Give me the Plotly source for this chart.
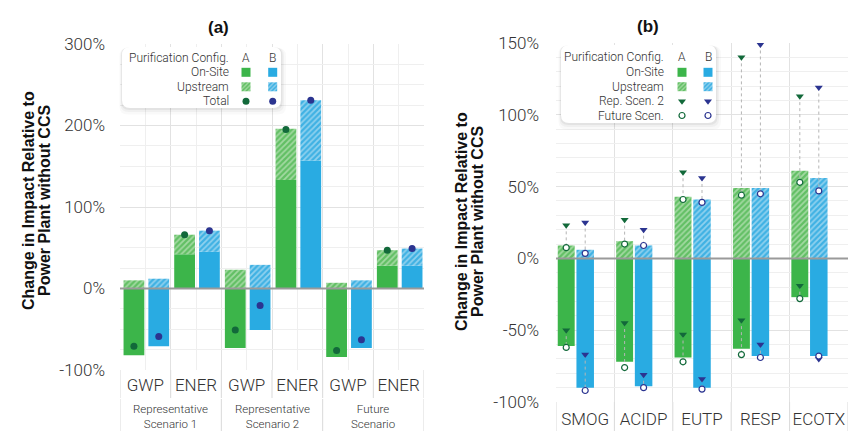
import plotly.graph_objects as go

W, H = 848, 431

# ---------------- data: panel (a) ----------------
cats_a = ["GWP", "ENER", "GWP", "ENER", "GWP", "ENER"]
scenarios_a = ["Representative<br>Scenario 1", "Representative<br>Scenario 2", "Future<br>Scenario"]
onsite_A = [-82, 42, -73, 133, -84, 28]
upstream_A = [10, 24, 23, 63, 7, 19]
total_A = [-71, 66, -51, 195, -76, 47]
onsite_B = [-71, 45, -51, 157, -73, 28]
upstream_B = [12, 26, 29, 74, 10, 21]
total_B = [-59, 71, -21, 231, -63, 49]
yticks_a = [-100, 0, 100, 200, 300]
yticktext_a = ["-100%", "0%", "100%", "200%", "300%"]

# ---------------- data: panel (b) ----------------
cats_b = ["SMOG", "ACIDP", "EUTP", "RESP", "ECOTX"]
onsite_A_b = [-61, -72, -69, -63, -27]
upstream_A_b = [9, 12, 43, 49, 61]
onsite_B_b = [-90, -89, -90, -68, -68]
upstream_B_b = [6, 9, 41, 49, 56]
rep2_up_A = [23, 27, 60, 140, 113]
rep2_on_A = [-50, -45, -53, -43, -19]
fut_up_A = [7.5, 10, 41, 44, 53]
fut_on_A = [-62, -76, -72, -67, -28]
rep2_up_B = [25, 20, 56, 149, 119]
rep2_on_B = [-67, -81, -84, -60, -70]
fut_up_B = [3.5, 9, 39, 45, 47]
fut_on_B = [-92, -90, -91, -69, -68]
yticks_b = [-100, -50, 0, 50, 100, 150]
yticktext_b = ["-100%", "-50%", "0%", "50%", "100%", "150%"]

# ---------------- styles ----------------
GREEN = "#3cb54a"
BLUE = "#29abe2"
DGREEN = "#12693a"
DBLUE = "#2b3490"
PAT_A = dict(shape="/", bgcolor="#62bf64", fgcolor="#e2f3de", size=4, solidity=0.45)
PAT_B = dict(shape="/", bgcolor="#3fb1e3", fgcolor="#dff1fa", size=4, solidity=0.45)
LIGHT = "Roboto"
BOLD = "Liberation Sans"
TXT = "#333333"

fig = go.Figure()

# ---------------- panel (a) ----------------
pos_a = list(range(len(cats_a)))
grp_a = {"A": (-0.43, 0.41), "B": (0.06, 0.41)}
for cfg, onsite, up, tot, col, dcol, pat in [
    ("A", onsite_A, upstream_A, total_A, GREEN, DGREEN, PAT_A),
    ("B", onsite_B, upstream_B, total_B, BLUE, DBLUE, PAT_B),
]:
    off, wid = grp_a[cfg]
    fig.add_trace(go.Bar(x=pos_a, y=onsite, offset=off, width=wid,
                         marker=dict(color=col, line=dict(width=0)),
                         xaxis="x", yaxis="y", showlegend=False))
    fig.add_trace(go.Bar(x=pos_a, y=up, base=[max(o, 0) for o in onsite],
                         offset=off, width=wid,
                         marker=dict(color=pat["bgcolor"], pattern=pat, line=dict(width=0)),
                         xaxis="x", yaxis="y", showlegend=False))
    fig.add_trace(go.Scatter(x=[p + off + wid / 2 for p in pos_a], y=tot, mode="markers",
                             marker=dict(color=dcol, size=7),
                             xaxis="x", yaxis="y", showlegend=False))

# ---------------- panel (b) ----------------
pos_b = list(range(len(cats_b)))
grp_b = {"A": (-0.47, 0.29), "B": (-0.15, 0.30)}
for cfg, onsite, up, r_up, r_on, f_up, f_on, col, dcol, pat in [
    ("A", onsite_A_b, upstream_A_b, rep2_up_A, rep2_on_A, fut_up_A, fut_on_A, GREEN, DGREEN, PAT_A),
    ("B", onsite_B_b, upstream_B_b, rep2_up_B, rep2_on_B, fut_up_B, fut_on_B, BLUE, DBLUE, PAT_B),
]:
    off, wid = grp_b[cfg]
    fig.add_trace(go.Bar(x=pos_b, y=onsite, offset=off, width=wid,
                         marker=dict(color=col, line=dict(width=0)),
                         xaxis="x2", yaxis="y2", showlegend=False))
    fig.add_trace(go.Bar(x=pos_b, y=up, base=[max(o, 0) for o in onsite],
                         offset=off, width=wid,
                         marker=dict(color=pat["bgcolor"], pattern=pat, line=dict(width=0)),
                         xaxis="x2", yaxis="y2", showlegend=False))
    xc = [p + off + wid / 2 for p in pos_b]
    lx, ly = [], []
    for i in range(len(pos_b)):
        lx += [xc[i], xc[i], None, xc[i], xc[i], None]
        ly += [r_up[i], f_up[i], None, r_on[i], f_on[i], None]
    fig.add_trace(go.Scatter(x=lx, y=ly, mode="lines",
                             line=dict(color="#b5b5b5", width=1, dash="dot"),
                             xaxis="x2", yaxis="y2", showlegend=False))
    fig.add_trace(go.Scatter(x=xc + xc, y=r_up + r_on, mode="markers",
                             marker=dict(symbol="triangle-down", color=dcol, size=7),
                             xaxis="x2", yaxis="y2", showlegend=False))
    fig.add_trace(go.Scatter(x=xc + xc, y=f_up + f_on, mode="markers",
                             marker=dict(symbol="circle", color="white", size=6,
                                         line=dict(color=dcol, width=1.2)),
                             xaxis="x2", yaxis="y2", showlegend=False))

# ---------------- custom legend (pixel helper axes) ----------------
def rrect(x0, y0, x1, y1, r):
    return (f"M{x0+r},{y0} L{x1-r},{y0} Q{x1},{y0} {x1},{y0+r} L{x1},{y1-r} "
            f"Q{x1},{y1} {x1-r},{y1} L{x0+r},{y1} Q{x0},{y1} {x0},{y1-r} "
            f"L{x0},{y0+r} Q{x0},{y0} {x0+r},{y0} Z")

shapes = []
annotations = []

def legend_box(x0, y0, x1, y1):
    for k, op in [(5, 0.025), (3, 0.035), (1.5, 0.05)]:
        shapes.append(dict(type="path", path=rrect(x0 - k * 0.5, y0 + k * 0.2, x1 + k, y1 + k * 1.3, 8),
                           xref="x3", yref="y3", fillcolor=f"rgba(0,0,0,{op})",
                           line=dict(width=0), layer="below"))
    shapes.append(dict(type="path", path=rrect(x0, y0, x1, y1, 8), xref="x3", yref="y3",
                       fillcolor="white", line=dict(width=0), layer="below"))

def legend_text(txt, x, y, anchor="right"):
    annotations.append(dict(text=txt, x=x, y=y, xref="x3", yref="y3", showarrow=False,
                            xanchor=anchor, yanchor="middle",
                            font=dict(family=LIGHT, size=12, color=TXT, weight=300)))

leg_rows_a = ["Purification Config.", "On-Site", "Upstream", "Total"]
leg_rows_b = ["Purification Config.", "On-Site", "Upstream", "Rep. Scen. 2", "Future Scen."]

for (bx0, by0, bx1, by1, tx, ax, bxc, rows, ry) in [
    (122, 47, 281, 108, 231, 246, 272.7, leg_rows_a, [57.5, 72.3, 86.8, 101.3]),
    (561, 45, 716, 123, 666, 682, 708, leg_rows_b, [57.3, 72.3, 86.7, 101.3, 115.5]),
]:
    legend_box(bx0, by0, bx1, by1)
    for r, yy in zip(rows, ry):
        legend_text(r, tx, yy)
    legend_text("A", ax, ry[0], "center")
    legend_text("B", bxc, ry[0], "center")
    fig.add_trace(go.Scatter(x=[ax, bxc], y=[ry[1], ry[1]], mode="markers",
                             marker=dict(symbol="square", size=9, color=[GREEN, BLUE]),
                             xaxis="x3", yaxis="y3", showlegend=False))
    for xx, pat in [(ax, PAT_A), (bxc, PAT_B)]:
        fig.add_trace(go.Bar(x=[xx], y=[9], base=[ry[2] - 4.5], width=[9],
                             marker=dict(color=pat["bgcolor"], pattern=dict(pat, size=3), line=dict(width=0)),
                             xaxis="x3", yaxis="y3", showlegend=False))
    if len(rows) == 4:
        fig.add_trace(go.Scatter(x=[ax, bxc], y=[ry[3], ry[3]], mode="markers",
                                 marker=dict(symbol="circle", size=7, color=[DGREEN, DBLUE]),
                                 xaxis="x3", yaxis="y3", showlegend=False))
    else:
        fig.add_trace(go.Scatter(x=[ax, bxc], y=[ry[3], ry[3]], mode="markers",
                                 marker=dict(symbol="triangle-down", size=7, color=[DGREEN, DBLUE]),
                                 xaxis="x3", yaxis="y3", showlegend=False))
        fig.add_trace(go.Scatter(x=[ax, bxc], y=[ry[4], ry[4]], mode="markers",
                                 marker=dict(symbol="circle", size=6, color="white",
                                             line=dict(color=[DGREEN, DBLUE], width=1.2)),
                                 xaxis="x3", yaxis="y3", showlegend=False))

# ---------------- titles ----------------
for txt, x, y in [("(a)", 218, 27), ("(b)", 648, 26)]:
    annotations.append(dict(text=f"<b>{txt}</b>", x=x, y=y, xref="x3", yref="y3", showarrow=False,
                            font=dict(family=BOLD, size=17, color="#111")))
for x1, x2, yc in [(28, 44, 201), (461, 477, 222)]:
    for txt, xx in [("Change in Impact Relative to", x1), ("Power Plant without CCS", x2)]:
        annotations.append(dict(text=f"<b>{txt}</b>", x=xx, y=yc, xref="x3", yref="y3",
                                showarrow=False, textangle=-90,
                                font=dict(family=BOLD, size=16, color="#111")))

# ---------------- category label cells ----------------
def py(p):
    return 1 - p / H

SEP = "#d9d9d9"
for b in [p - 0.5 for p in pos_a] + [pos_a[-1] + 0.5]:
    shapes.append(dict(type="line", xref="x", yref="paper", x0=b, x1=b, y0=py(370), y1=py(398),
                       line=dict(color=SEP, width=1), layer="above"))
n_per = len(cats_a) // len(scenarios_a)
for g in range(len(scenarios_a) + 1):
    b = g * n_per - 0.5
    shapes.append(dict(type="line", xref="x", yref="paper", x0=b, x1=b, y0=py(399), y1=py(431),
                       line=dict(color=SEP, width=1), layer="above"))
for g, s in enumerate(scenarios_a):
    annotations.append(dict(text=s, x=g * n_per + (n_per - 1) / 2, y=py(416), xref="x", yref="paper",
                            showarrow=False, yanchor="middle",
                            font=dict(family=LIGHT, size=11.5, color=TXT, weight=300)))
for b in [p - 0.5 for p in pos_b] + [pos_b[-1] + 0.5]:
    shapes.append(dict(type="line", xref="x2", yref="paper", x0=b, x1=b, y0=py(402), y1=py(431),
                       line=dict(color=SEP, width=1), layer="above"))

for xr, yr in [("x domain", "y"), ("x2 domain", "y2")]:
    shapes.append(dict(type="line", xref=xr, yref=yr, x0=0, x1=1, y0=0, y1=0,
                       line=dict(color="#9a9a9a", width=2), layer="above"))

tickfont = dict(family=LIGHT, size=17, color=TXT, weight=300)
GRID = "#e2e2e2"
MINOR = "#efefef"

fig.update_layout(
    width=W, height=H,
    margin=dict(l=0, r=0, t=0, b=0, autoexpand=False),
    paper_bgcolor="white", plot_bgcolor="rgba(0,0,0,0)",
    barmode="overlay", showlegend=False,
    xaxis=dict(domain=[120 / W, 424 / W], range=[-0.5, len(cats_a) - 0.5], anchor="y",
               tickmode="array", tickvals=pos_a, ticktext=cats_a, tickfont=tickfont,
               showgrid=True, gridcolor=MINOR, zeroline=False, ticks="", ticklabelstandoff=3,
               automargin=False,
               minor=dict(tickmode="array", tickvals=[p - 0.5 for p in pos_a] + [pos_a[-1] + 0.5],
                          showgrid=True, gridcolor=GRID, ticks="")),
    yaxis=dict(domain=[py(370), py(44)], range=[-100, 300], anchor="x",
               tickmode="array", tickvals=yticks_a, ticktext=yticktext_a, tickfont=tickfont,
               showgrid=True, gridcolor=GRID, zeroline=False, ticks="", ticklabelstandoff=14,
               automargin=False,
               minor=dict(dtick=25, showgrid=True, gridcolor=MINOR, ticks="")),
    xaxis2=dict(domain=[556 / W, 1.0], range=[-0.5, len(cats_b) - 0.5], anchor="y2",
                tickmode="array", tickvals=pos_b, ticktext=cats_b, tickfont=tickfont,
                showgrid=False, zeroline=False, ticks="", ticklabelstandoff=5,
                automargin=False,
                minor=dict(tickmode="array", tickvals=[p - 0.5 for p in pos_b] + [pos_b[-1] + 0.5],
                           showgrid=True, gridcolor=GRID, ticks="")),
    yaxis2=dict(domain=[py(402), py(43)], range=[-100, 150], anchor="x2",
                tickmode="array", tickvals=yticks_b, ticktext=yticktext_b, tickfont=tickfont,
                showgrid=True, gridcolor=GRID, zeroline=False, ticks="", ticklabelstandoff=16,
                automargin=False,
                minor=dict(dtick=10, showgrid=True, gridcolor=MINOR, ticks="")),
    xaxis3=dict(domain=[0, 1], range=[0, W], visible=False, fixedrange=True, anchor="y3",
                automargin=False),
    yaxis3=dict(domain=[0, 1], range=[H, 0], visible=False, fixedrange=True, anchor="x3",
                automargin=False),
    shapes=shapes,
    annotations=annotations,
)

fig.write_html("out.html", config={"displayModeBar": False},
               post_script="document.body.style.margin='0';document.body.style.overflow='hidden';")
